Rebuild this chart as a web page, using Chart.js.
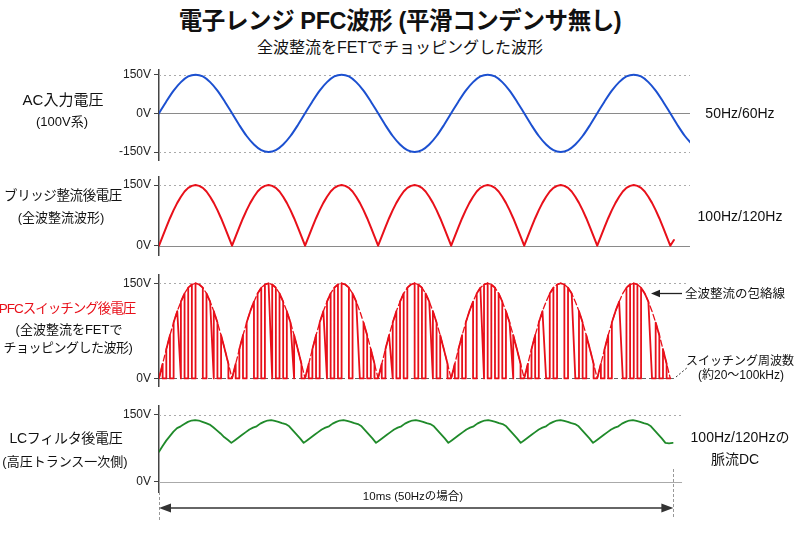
<!DOCTYPE html>
<html><head><meta charset="utf-8">
<script src="https://cdn.jsdelivr.net/npm/chart.js@4.4.1/dist/chart.umd.min.js"></script>
<style>
html,body{margin:0;padding:0;background:#fff;}
#wrap{position:relative;width:800px;height:533px;overflow:hidden;font-family:"Liberation Sans","Noto Sans CJK JP",sans-serif;color:#111;}
canvas{position:absolute;left:0;}
.t{position:absolute;white-space:nowrap;transform:translate(-50%,-50%);line-height:1;}
svg{position:absolute;left:0;top:0;pointer-events:none;}
</style></head>
<body><div id="wrap">
<canvas id="c1" width="800" height="114" style="top:58px"></canvas>
<canvas id="c2" width="800" height="102" style="top:165px"></canvas>
<canvas id="c3" width="800" height="135" style="top:263px"></canvas>
<canvas id="c4" width="800" height="138" style="top:394px"></canvas>

<div class="t" style="left:400px;top:22px;font-size:23.5px;font-weight:bold;letter-spacing:-0.4px">電子レンジ PFC波形 (平滑コンデンサ無し)</div>
<div class="t" style="left:400px;top:48px;font-size:16px">全波整流をFETでチョッピングした波形</div>

<div class="t" style="left:63px;top:99px;font-size:15px">AC入力電圧</div>
<div class="t" style="left:62px;top:121px;font-size:13px">(100V系)</div>
<div class="t" style="left:63px;top:196px;font-size:13.5px;letter-spacing:-0.4px">ブリッジ整流後電圧</div>
<div class="t" style="left:61px;top:217px;font-size:13px">(全波整流波形)</div>
<div class="t" style="left:67px;top:309px;font-size:13.5px;letter-spacing:-1px;color:#e8101a">PFCスイッチング後電圧</div>
<div class="t" style="left:69px;top:329px;font-size:13px">(全波整流をFETで</div>
<div class="t" style="left:68px;top:347px;font-size:13px;letter-spacing:-0.5px">チョッピングした波形)</div>
<div class="t" style="left:66px;top:438px;font-size:14px;letter-spacing:-0.3px">LCフィルタ後電圧</div>
<div class="t" style="left:65px;top:461px;font-size:13px">(高圧トランス一次側)</div>

<div class="t" style="left:740px;top:113px;font-size:14px">50Hz/60Hz</div>
<div class="t" style="left:740px;top:216px;font-size:14px">100Hz/120Hz</div>
<div class="t" style="left:735px;top:294px;font-size:12.5px">全波整流の包絡線</div>
<div class="t" style="left:740px;top:361px;font-size:12px">スイッチング周波数</div>
<div class="t" style="left:741px;top:375px;font-size:12px">(約20〜100kHz)</div>
<div class="t" style="left:740px;top:437px;font-size:14px">100Hz/120Hzの</div>
<div class="t" style="left:735px;top:459px;font-size:14px">脈流DC</div>
<div class="t" style="left:413px;top:497px;font-size:11.5px">10ms (50Hzの場合)</div>

<svg width="800" height="533">
  <line x1="682" y1="293.5" x2="658" y2="293.5" stroke="#222" stroke-width="1.3"/>
  <polygon points="651,293.5 660,289.8 660,297.2" fill="#222"/>
  <line x1="676" y1="377" x2="688" y2="367" stroke="#333" stroke-width="1" stroke-dasharray="2,2"/>
</svg>
</div>
<script>
// ---------------- data ----------------
// AC input voltage, sampled every 1 ms (t = 0 .. 73 ms)
const acStepMs = 1;
const acVolts = [
0,46,88,121,143,150,143,121,88,46,0,-46,-88,-121,-143,-150,-143,-121,-88,-46,
0,46,88,121,143,150,143,121,88,46,0,-46,-88,-121,-143,-150,-143,-121,-88,-46,
0,46,88,121,143,150,143,121,88,46,0,-46,-88,-121,-143,-150,-143,-121,-88,-46,
0,46,88,121,143,150,143,121,88,46,0,-46,-88,-121];

// Bridge-rectified voltage, sampled every 0.5 ms (t = 0 .. 70.5 ms)
const rectStepMs = 0.5;
const rectifiedVolts = [
0,23,46,68,88,106,121,134,143,148,150,148,143,134,121,106,88,68,46,23,
0,23,46,68,88,106,121,134,143,148,150,148,143,134,121,106,88,68,46,23,
0,23,46,68,88,106,121,134,143,148,150,148,143,134,121,106,88,68,46,23,
0,23,46,68,88,106,121,134,143,148,150,148,143,134,121,106,88,68,46,23,
0,23,46,68,88,106,121,134,143,148,150,148,143,134,121,106,88,68,46,23,
0,23,46,68,88,106,121,134,143,148,150,148,143,134,121,106,88,68,46,23,
0,23,46,68,88,106,121,134,143,148,150,148,143,134,121,106,88,68,46,23,
0,14];

// FET gate state per 0.5 ms slot: 1 = on, 0 = off, d = slow turn-off, one row per half-cycle
const pfcGate = [
"10101d10101101d10110",
"1010110101d10101d110",
"10101d10101101d01010",
"101d1010110101d10110",
"10101101d1010101d110",
"10101d0101101d010110",
"101011d0101011d01010"].join("");

// LC-filter output voltage, sampled every 0.5 ms (t = 0 .. 71 ms)
const lcStepMs = 0.5;
const lcFilterVolts = [
67,80,92,102,112,120,124,129,134,137,138,137,134,131,128,122,115,108,100,94,
87,93,99,105,111,117,121,124,130,134,137,138,136,134,131,129,124,115,106,97,
87,93,99,105,111,117,121,124,130,134,137,138,136,134,131,129,124,115,106,97,
87,93,99,105,111,117,121,124,130,134,137,138,136,134,131,129,124,115,106,97,
87,93,99,105,111,117,121,124,130,134,137,138,136,134,131,129,124,115,106,97,
87,93,99,105,111,117,121,124,130,134,137,138,136,134,131,129,124,115,106,97,
87,93,99,105,111,117,121,124,130,134,137,138,136,134,131,129,124,115,106,97,
87,86,87];

const ticksAC = [-150, 0, 150];
const ticksDC = [0, 150];
const spanMarkersMs = [0, 71.1];

// ---------------- helpers ----------------
const toPoints = (vals, step) => vals.map((v, i) => ({x: i * step, y: v}));

function pfcPoints() {
  const pts = [{x: 0, y: 0}];
  const nSlots = pfcGate.length;
  for (let j = 0; j < nSlots; j++) {
    const c = pfcGate[j];
    const t0 = j * rectStepMs, t1 = (j + 1) * rectStepMs;
    if (c === "1") {
      if (j === 0 || pfcGate[j - 1] !== "1") { pts.push({x: t0, y: 0}); pts.push({x: t0, y: rectifiedVolts[j]}); }
      pts.push({x: t1, y: rectifiedVolts[j + 1]});
      const n = pfcGate[j + 1];
      if (n !== "1" && n !== "d") pts.push({x: t1, y: 0});
    } else if (c === "d") {
      pts.push({x: t1, y: 0});
    }
  }
  pts.push({x: nSlots * rectStepMs, y: 0});
  return pts;
}

const refLinesPlugin = {
  id: 'refLines',
  beforeDatasetsDraw(chart, args, opts) {
    const {ctx, chartArea, scales: {x, y}} = chart;
    (opts.lines || []).forEach(l => {
      const py = Math.round(y.getPixelForValue(l.value)) + 0.5;
      const xEnd = l.endMs != null ? x.getPixelForValue(l.endMs) : chartArea.right;
      ctx.save();
      ctx.beginPath();
      ctx.setLineDash(l.dash || []);
      ctx.strokeStyle = l.color; ctx.lineWidth = l.width || 1;
      ctx.moveTo(chartArea.left, py); ctx.lineTo(xEnd, py); ctx.stroke();
      ctx.restore();
    });
  }
};
const spanPlugin = {
  id: 'span',
  afterDraw(chart, args, opts) {
    if (!opts || !opts.markersMs) return;
    const {ctx, chartArea, scales: {x}} = chart;
    const a = x.getPixelForValue(opts.markersMs[0]);
    const b = x.getPixelForValue(opts.markersMs[1]);
    const yb = chartArea.bottom;
    ctx.save();
    ctx.strokeStyle = '#999'; ctx.lineWidth = 1; ctx.setLineDash([3, 2]);
    ctx.beginPath();
    ctx.moveTo(Math.round(a) + 0.5, yb); ctx.lineTo(Math.round(a) + 0.5, yb + 29);
    ctx.moveTo(Math.round(b) + 0.5, yb - 23); ctx.lineTo(Math.round(b) + 0.5, yb + 25);
    ctx.stroke();
    ctx.setLineDash([]);
    ctx.strokeStyle = '#333'; ctx.fillStyle = '#333'; ctx.lineWidth = 1.6;
    const ya = yb + 16;
    ctx.beginPath(); ctx.moveTo(a + 8, ya); ctx.lineTo(b - 8, ya); ctx.stroke();
    ctx.beginPath(); ctx.moveTo(a, ya); ctx.lineTo(a + 12, ya - 4.5); ctx.lineTo(a + 12, ya + 4.5); ctx.closePath(); ctx.fill();
    ctx.beginPath(); ctx.moveTo(b, ya); ctx.lineTo(b - 12, ya - 4.5); ctx.lineTo(b - 12, ya + 4.5); ctx.closePath(); ctx.fill();
    ctx.restore();
  }
};
Chart.register(refLinesPlugin, spanPlugin);

const DOTTED = [2, 3];
function makeChart(id, datasets, cfg) {
  return new Chart(document.getElementById(id), {
    type: 'line',
    data: {datasets},
    options: {
      responsive: false, animation: false, devicePixelRatio: 1,
      layout: {padding: {left: 0, right: 110, top: 12, bottom: cfg.padBottom || 12}},
      elements: {point: {radius: 0}, line: {tension: 0, borderCapStyle: 'round', borderJoinStyle: 'round'}},
      plugins: {legend: {display: false}, tooltip: {enabled: false},
        refLines: {lines: cfg.lines}, span: cfg.span || {}},
      scales: {
        x: {type: 'linear', min: 0, max: cfg.xMax, display: false},
        y: {
          min: cfg.yMin, max: cfg.yMax,
          afterBuildTicks: s => { s.ticks = cfg.ticks.map(v => ({value: v})); },
          afterFit: s => { s.width = 159; },
          ticks: {callback: v => v + 'V', color: '#222', padding: 3, autoSkip: false,
                  font: {family: '"Liberation Sans","Noto Sans CJK JP",sans-serif', size: 12}},
          grid: {drawOnChartArea: false, drawTicks: true, tickLength: 5, tickColor: '#444', tickWidth: 1},
          border: {display: true, color: '#444', width: 1.5}
        }
      }
    }
  });
}

makeChart('c1', [
  {data: toPoints(acVolts, acStepMs), borderColor: '#1c50d0', borderWidth: 2, tension: 0.3}
], {xMax: 72.7, yMin: -181, yMax: 168, ticks: ticksAC, lines: [
  {value: 150, dash: DOTTED, color: '#aaa'},
  {value: -150, dash: DOTTED, color: '#aaa'},
  {value: 0, color: '#8a8a8a', width: 1.2}
]});

makeChart('c2', [
  {data: toPoints(rectifiedVolts, rectStepMs), borderColor: '#e8101a', borderWidth: 2}
], {xMax: 72.7, yMin: -23, yMax: 170, ticks: ticksDC, lines: [
  {value: 150, dash: DOTTED, color: '#aaa'},
  {value: 0, color: '#8a8a8a', width: 1.2}
]});

makeChart('c3', [
  {data: toPoints(rectifiedVolts.slice(0, pfcGate.length + 1), rectStepMs), borderColor: '#e8101a', borderWidth: 1.3, borderDash: [6, 3]},
  {data: pfcPoints(), borderColor: '#e8101a', borderWidth: 1.8}
], {xMax: 72.7, yMin: -12, yMax: 163, ticks: ticksDC, lines: [
  {value: 150, dash: DOTTED, color: '#aaa', endMs: 72.2},
  {value: 0, dash: [4, 3], color: '#666', width: 1.2, endMs: 70.5}
]});

makeChart('c4', [
  {data: toPoints(lcFilterVolts, lcStepMs), borderColor: '#1f8a2a', borderWidth: 1.8}
], {xMax: 73.4, yMin: -23, yMax: 169.5, ticks: ticksDC, padBottom: 40, span: {markersMs: spanMarkersMs}, lines: [
  {value: 150, dash: DOTTED, color: '#aaa', endMs: 72.3},
  {value: 0, color: '#aaa', width: 1.2, endMs: 72.3}
]});
</script>
</body></html>
